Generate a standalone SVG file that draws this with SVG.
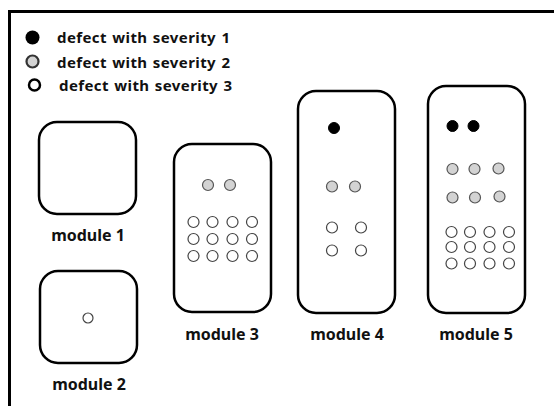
<svg xmlns="http://www.w3.org/2000/svg" width="554" height="406" viewBox="0 0 554 406">
  <style>
    .frame { stroke: #000; stroke-width: 3; fill: none; }
    .mod { fill: #fff; stroke: #000; stroke-width: 2.5; }
    .lbl { font-family: "Noto Sans", "Liberation Sans", sans-serif; font-weight: bold; font-size: 16px; fill: #111; text-anchor: middle; }
    .leg { font-family: "Noto Sans", "Liberation Sans", sans-serif; font-weight: bold; font-size: 15px; fill: #111; word-spacing: 1px; }
    .s1 { fill: #000; stroke: #000; stroke-width: 1; }
    .s2 { fill: #d3d3d3; stroke: #555; stroke-width: 1.2; }
    .s3 { fill: #fff; stroke: #444; stroke-width: 1.2; }
  </style>
  <rect width="554" height="406" fill="#fff"/>
  <!-- outer frame: only top and left edges fall inside the view -->
  <path class="frame" d="M9.5 406 V11.5 H554"/>

  <!-- legend -->
  <g id="legend">
    <circle cx="32.5" cy="37.5" r="7" fill="#000"/>
    <circle cx="32.5" cy="61.5" r="6" fill="#d3d3d3" stroke="#333" stroke-width="2.2"/>
    <circle cx="34.5" cy="85" r="5.5" fill="#fff" stroke="#000" stroke-width="2.5"/>
    <text class="leg" x="57" y="43" textLength="173">defect with severity 1</text>
    <text class="leg" x="57" y="67.5" textLength="173">defect with severity 2</text>
    <text class="leg" x="59" y="91" textLength="173">defect with severity 3</text>
  </g>

  <g id="module1">
    <rect class="mod" x="39" y="122" width="97" height="92" rx="18"/>
    <text class="lbl" x="88" y="241">module 1</text>
  </g>

  <g id="module2">
    <rect class="mod" x="40" y="271" width="97" height="92" rx="18"/>
    <circle class="s3" cx="88" cy="318" r="5"/>
    <text class="lbl" x="89" y="390">module 2</text>
  </g>

  <g id="module3">
    <rect class="mod" x="174" y="144" width="97" height="168" rx="18"/>
    <circle class="s2" cx="208" cy="185" r="5.5"/>
    <circle class="s2" cx="230" cy="185" r="5.5"/>
    <g class="s3">
      <circle cx="193.5" cy="222" r="5.5"/><circle cx="212.5" cy="222" r="5.5"/><circle cx="232.5" cy="222" r="5.5"/><circle cx="252" cy="222" r="5.5"/>
      <circle cx="193.5" cy="239" r="5.5"/><circle cx="212.5" cy="239" r="5.5"/><circle cx="232.5" cy="239" r="5.5"/><circle cx="252" cy="239" r="5.5"/>
      <circle cx="193.5" cy="256" r="5.5"/><circle cx="212.5" cy="256" r="5.5"/><circle cx="232.5" cy="256" r="5.5"/><circle cx="252" cy="256" r="5.5"/>
    </g>
    <text class="lbl" x="222" y="340">module 3</text>
  </g>

  <g id="module4">
    <rect class="mod" x="298" y="91" width="97" height="222" rx="18"/>
    <circle class="s1" cx="334" cy="128" r="5.5"/>
    <circle class="s2" cx="332" cy="186.5" r="5.5"/>
    <circle class="s2" cx="355" cy="186.5" r="5.5"/>
    <g class="s3">
      <circle cx="332" cy="227.5" r="5.5"/><circle cx="361" cy="227.5" r="5.5"/>
      <circle cx="332" cy="250.5" r="5.5"/><circle cx="361" cy="250.5" r="5.5"/>
    </g>
    <text class="lbl" x="347" y="340">module 4</text>
  </g>

  <g id="module5">
    <rect class="mod" x="428" y="86" width="97" height="227" rx="18"/>
    <circle class="s1" cx="452.5" cy="126" r="5.5"/>
    <circle class="s1" cx="473.5" cy="126" r="5.5"/>
    <circle class="s2" cx="452.5" cy="169" r="5.5"/>
    <circle class="s2" cx="474.5" cy="169" r="5.5"/>
    <circle class="s2" cx="498.5" cy="168.5" r="5.5"/>
    <circle class="s2" cx="452.5" cy="197.5" r="5.5"/>
    <circle class="s2" cx="475" cy="197.5" r="5.5"/>
    <circle class="s2" cx="499.5" cy="196.5" r="5.5"/>
    <g class="s3">
      <circle cx="451.5" cy="232" r="5.5"/><circle cx="470" cy="232" r="5.5"/><circle cx="489.5" cy="232" r="5.5"/><circle cx="509" cy="232" r="5.5"/>
      <circle cx="451.5" cy="247" r="5.5"/><circle cx="470" cy="247" r="5.5"/><circle cx="489.5" cy="247" r="5.5"/><circle cx="509" cy="247" r="5.5"/>
      <circle cx="451.5" cy="263.5" r="5.5"/><circle cx="470" cy="263.5" r="5.5"/><circle cx="489.5" cy="263.5" r="5.5"/><circle cx="509" cy="263.5" r="5.5"/>
    </g>
    <text class="lbl" x="476" y="340">module 5</text>
  </g>
</svg>
